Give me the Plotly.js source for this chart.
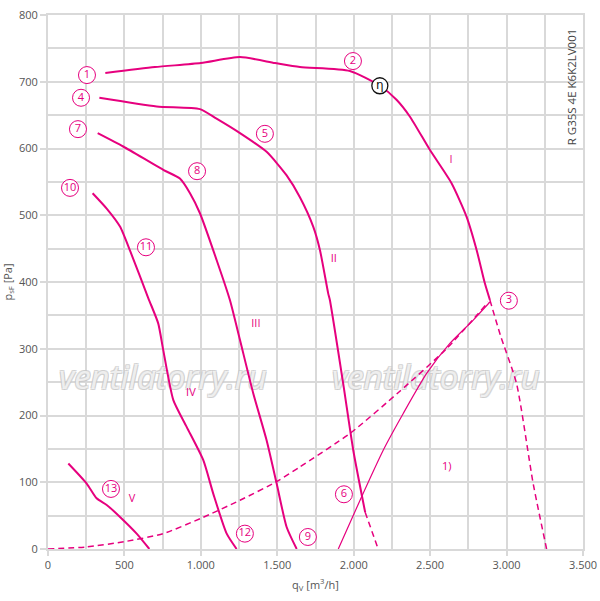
<!DOCTYPE html>
<html>
<head>
<meta charset="utf-8">
<script src="https://cdn.plot.ly/plotly-3.0.1.min.js"></script>
<style>
  html, body { margin: 0; padding: 0; background: #fff; }
  #chart { width: 600px; height: 601px; }
</style>
</head>
<body>
<div id="chart"></div>
<script>
// Fan curves (q in m³/h, p in Pa)
const curveIx = [375, 700, 1000, 1256, 1485, 1648, 1975, 2171, 2280, 2367, 2498, 2640, 2738, 2804, 2858, 2891];
const curveIy = [713, 722, 728, 737, 728, 722, 716, 694, 673, 648, 598, 548, 498, 448, 398, 373];
const curveIdashX = [2891, 2960, 3065, 3174, 3262];
const curveIdashY = [373, 320, 248, 98, 0];

const curveIIx = [336, 711, 994, 1100, 1256, 1430, 1560, 1648, 1735, 1779, 1833, 1844, 1931, 1997, 2075];
const curveIIy = [676, 663, 659, 645, 623, 595, 560, 527, 483, 448, 383, 373, 248, 148, 55];
const curveIIdashX = [2075, 2160];
const curveIIdashY = [55, 0];

const curveIIIx = [325, 492, 754, 863, 929, 994, 1103, 1190, 1256, 1343, 1430, 1496, 1561, 1627];
const curveIIIy = [623, 603, 568, 555, 533, 503, 433, 373, 313, 233, 163, 98, 33, 0];

const curveIVx = [292, 384, 471, 540, 656, 721, 754, 820, 907, 1016, 1081, 1169, 1234];
const curveIVy = [533, 510, 483, 445, 376, 338, 298, 223, 183, 133, 83, 23, 0];

const curveVx = [133, 253, 318, 384, 471, 580, 663];
const curveVy = [128, 98, 76, 66, 48, 23, 0];

// system resistance line (dashed)
const systemX = [0, 250, 500, 754, 1000, 1256, 1496, 1648, 1975, 2300, 2607, 2880];
const systemY = [0, 3, 11, 23, 46, 73, 101, 123, 173, 236, 300, 370];

// limit line 1)
const limitX = [1899, 2051, 2193, 2324, 2477, 2629, 2782, 2891];
const limitY = [0, 78, 148, 203, 263, 308, 343, 370];

// circled point labels
const markText = ['1', '2', '3', '4', '5', '6', '7', '8', '9', '10', '11', '12', '13'];
const markX = [255, 1995, 3015, 216, 1419, 1936, 196, 975, 1700, 144, 641, 1288, 412];
const markY = [710, 731, 372, 676, 622, 82, 629, 566, 18, 541, 452, 23, 90];

const etaX = [2171];
const etaY = [694];

const romanText = ['I', 'II', 'III', 'IV', 'V', '1)'];
const romanX = [2636, 1870, 1360, 935, 549, 2609];
const romanY = [583, 434, 336, 234, 75, 123];

const watermarkText = ['ventilatorry.ru', 'ventilatorry.ru'];
const watermarkX = [752, 2538];
const watermarkY = [252, 252];

const PINK = '#e6007e';
const GRID = '#d9d9d9';

const solid = (x, y, w) => ({
  x, y, type: 'scatter', mode: 'lines', hoverinfo: 'skip',
  line: { color: PINK, width: w || 2, shape: 'spline', smoothing: 0.6 },
});
const dashed = (x, y) => ({
  x, y, type: 'scatter', mode: 'lines', hoverinfo: 'skip',
  line: { color: PINK, width: 1.5, dash: '6px,4px', shape: 'spline', smoothing: 0.6 },
});

const traces = [
  // watermark goes first so the curves sit on top of it
  {
    x: watermarkX, y: watermarkY, text: watermarkText.map(t => `<i>${t}</i>`),
    type: 'scatter', mode: 'text', hoverinfo: 'skip',
    textposition: 'middle center',
    textfont: {
      family: 'Open Sans, sans-serif', size: 33, color: 'rgba(255,255,255,0.7)',
      shadow: '1px 1px 0 #c8c8c8, -1px -1px 0 #c8c8c8, 1px -1px 0 #c8c8c8, -1px 1px 0 #c8c8c8',
    },
  },
  dashed(systemX, systemY),
  solid(limitX, limitY, 1.2),
  solid(curveIx, curveIy),
  dashed(curveIdashX, curveIdashY),
  solid(curveIIx, curveIIy),
  dashed(curveIIdashX, curveIIdashY),
  solid(curveIIIx, curveIIIy),
  solid(curveIVx, curveIVy),
  solid(curveVx, curveVy),
  {
    x: markX, y: markY, text: markText,
    type: 'scatter', mode: 'markers+text', hoverinfo: 'skip',
    marker: { symbol: 'circle', size: 17, color: '#fff', line: { color: PINK, width: 1 } },
    textposition: 'middle center',
    textfont: { family: 'Open Sans, sans-serif', size: 11, color: PINK },
  },
  {
    x: etaX, y: etaY, text: ['η'],
    type: 'scatter', mode: 'markers+text', hoverinfo: 'skip',
    marker: { symbol: 'circle', size: 16, color: '#fff', line: { color: '#111', width: 1.3 } },
    textposition: 'middle center',
    textfont: { family: 'DejaVu Sans, sans-serif', size: 12, color: '#111' },
  },
  {
    x: romanX, y: romanY, text: romanText,
    type: 'scatter', mode: 'text', hoverinfo: 'skip',
    textposition: 'middle center',
    textfont: { family: 'Open Sans, sans-serif', size: 11, color: PINK },
  },
];

const layout = {
  width: 600,
  height: 601,
  margin: { l: 48, r: 17, t: 15, b: 52 },
  paper_bgcolor: '#fff',
  plot_bgcolor: '#fff',
  showlegend: false,
  separators: ',.',
  font: { family: 'Open Sans, sans-serif', color: '#555', size: 11 },
  xaxis: {
    range: [0, 3500], dtick: 500, tickformat: ',d',
    showgrid: true, gridcolor: GRID, gridwidth: 2,
    minor: { dtick: 250, showgrid: true, gridcolor: GRID, gridwidth: 2 },
    zeroline: false, showline: true, linecolor: GRID, linewidth: 2, mirror: true,
    ticks: 'outside', ticklen: 5, tickcolor: GRID, tickwidth: 2,
    tickfont: { size: 11, color: '#555' },
    title: { text: 'q<sub>V</sub> [m<sup>3</sup>/h]', font: { size: 11, color: '#555' }, standoff: 10 },
    fixedrange: true,
  },
  yaxis: {
    range: [0, 800], dtick: 100,
    showgrid: true, gridcolor: GRID, gridwidth: 2,
    minor: { dtick: 50, showgrid: true, gridcolor: GRID, gridwidth: 2 },
    zeroline: false, showline: true, linecolor: GRID, linewidth: 2, mirror: true,
    ticks: 'outside', ticklen: 6, tickcolor: GRID, tickwidth: 2,
    tickfont: { size: 11, color: '#555' },
    title: { text: 'p<sub>sF</sub> [Pa]', font: { size: 11, color: '#555' }, standoff: 6 },
    fixedrange: true,
  },
  annotations: [
    {
      xref: 'paper', yref: 'paper', x: 0.978, y: 0.865, xanchor: 'center', yanchor: 'middle',
      showarrow: false,
      text: 'R G35S 4E K6K2LV001', textangle: -90,
      font: { family: 'Open Sans, sans-serif', size: 11.5, color: '#444' },
    },
  ],
};

Plotly.newPlot('chart', traces, layout, { displayModeBar: false, staticPlot: true });
</script>
</body>
</html>
